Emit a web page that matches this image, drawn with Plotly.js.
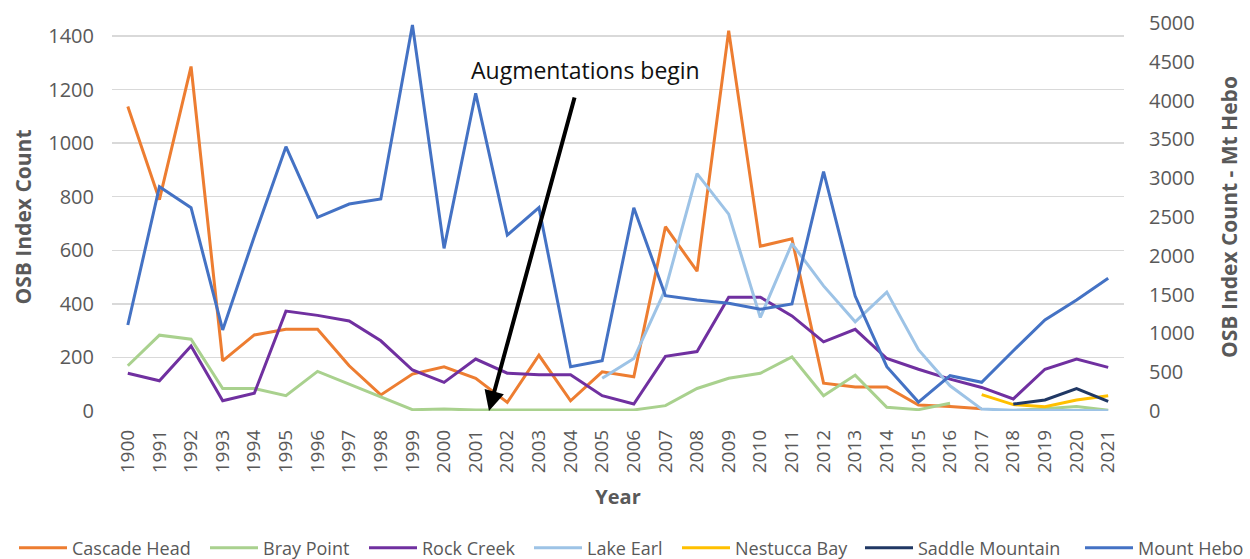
<!DOCTYPE html>
<html>
<head>
<meta charset="utf-8">
<script src="https://cdn.plot.ly/plotly-3.0.1.min.js"></script>
<style>html,body{margin:0;padding:0;background:#fff;}#chart{width:1250px;height:559px;}</style>
</head>
<body>
<div id="chart"></div>
<script>
const years = ["1900","1991","1992","1993","1994","1995","1996","1997","1998","1999","2000","2001","2002","2003","2004","2005","2006","2007","2008","2009","2010","2011","2012","2013","2014","2015","2016","2017","2018","2019","2020","2021"];

const cascadeHead = [1137, 789, 1286, 187, 284, 305, 305, 169, 60, 138, 165, 122, 32, 208, 38, 146, 128, 688, 522, 1420, 615, 643, 104, 90, 90, 22, 17, 8, null, null, null, null];
const brayPoint = [169, 283, 268, 84, 84, 57, 148, 100, 51, 5, 7, 4, 4, 4, 4, 4, 4, 20, 84, 122, 141, 202, 57, 134, 14, 5, 29, null, 2, 8, 17, 3];
const rockCreek = [141, 113, 243, 38, 66, 373, 357, 336, 262, 153, 107, 194, 141, 135, 135, 57, 26, 204, 222, 425, 425, 355, 258, 305, 196, 156, 119, 88, 45, 156, 194, 163];
const lakeEarl = [null, null, null, null, null, null, null, null, null, null, null, null, null, null, null, 122, 196, 455, 886, 735, 349, 625, 467, 333, 444, 229, 94, 7, 3, 3, 3, 1];
const nestuccaBay = [null, null, null, null, null, null, null, null, null, null, null, null, null, null, null, null, null, null, null, null, null, null, null, null, null, null, null, 61, 24, 16, 41, 57];
const saddleMountain = [null, null, null, null, null, null, null, null, null, null, null, null, null, null, null, null, null, null, null, null, null, null, null, null, null, null, null, null, 26, 41, 84, 36];
const mountHebo = [1108, 2890, 2620, 1044, 2250, 3406, 2495, 2667, 2732, 4974, 2096, 4094, 2268, 2620, 571, 648, 2620, 1486, 1430, 1388, 1310, 1379, 3084, 1482, 571, 115, 455, 370, 777, 1173, 1430, 1710];

const seriesNames = ["Cascade Head","Bray Point","Rock Creek","Lake Earl","Nestucca Bay","Saddle Mountain","Mount Hebo"];
const seriesColors = ["#ED7D31","#A9D18E","#7030A0","#9DC3E6","#FFC000","#203864","#4472C4"];
const seriesData = [cascadeHead, brayPoint, rockCreek, lakeEarl, nestuccaBay, saddleMountain, mountHebo];
const seriesAxis = ["y","y","y","y","y","y","y2"];

// legend entry left positions (fraction of the page width)
const legendX = [0.0112, 0.164, 0.2912, 0.4232, 0.5416, 0.688, 0.864];
const legendIds = ["legend","legend2","legend3","legend4","legend5","legend6","legend7"];

const traces = seriesNames.map((name, k) => ({
  type: "scatter",
  mode: "lines",
  name: name,
  x: years,
  y: seriesData[k],
  yaxis: seriesAxis[k],
  legend: legendIds[k],
  line: {color: seriesColors[k], width: 3},
  connectgaps: false
}));

const FONT = "'Open Sans', sans-serif";
const grey = "#595959";

const layout = {
  width: 1250, height: 559,
  margin: {l: 112, r: 126, t: 23, b: 148, pad: 0},
  paper_bgcolor: "#fff", plot_bgcolor: "#fff",
  font: {family: FONT, color: grey, size: 18},
  showlegend: true,
  xaxis: {type: "category", categoryorder: "array", categoryarray: years, automargin: false,
          range: [-0.5, 31.5], tickangle: -90, showgrid: false, zeroline: false, showline: false,
          ticks: "", ticklabelstandoff: 14, tickfont: {family: FONT, size: 19, color: grey},
          title: {text: "Year", standoff: 17, font: {family: FONT, size: 20, color: grey, weight: "bold"}}},
  yaxis: {range: [0, 1448.5], dtick: 200, tick0: 0, showgrid: true, gridcolor: "#D9D9D9", gridwidth: 1.5,
          zeroline: false, showline: false, ticks: "", ticklabelstandoff: 17, automargin: false,
          tickfont: {family: FONT, size: 20, color: grey},
          title: {text: "OSB Index Count", standoff: 10, font: {family: FONT, size: 21, color: grey, weight: "bold"}}},
  yaxis2: {overlaying: "y", side: "right", range: [0, 5000], dtick: 500, tick0: 0, showgrid: false,
           zeroline: false, showline: false, ticks: "", ticklabelstandoff: 24, automargin: false,
           tickfont: {family: FONT, size: 20, color: grey},
           title: {text: "OSB Index Count - Mt Hebo", standoff: 28, font: {family: FONT, size: 21, color: grey, weight: "bold"}}},
  annotations: [
    {xref: "x", yref: "y", x: 11.42, y: 0, axref: "pixel", ayref: "pixel", ax: 86, ay: -315,
     showarrow: true, arrowhead: 2, arrowsize: 1, arrowwidth: 4, arrowcolor: "#000", standoff: 0, text: ""},
    {xref: "paper", yref: "paper", x: (585 - 112) / 1012, y: (411 - 70) / 388, xanchor: "center", yanchor: "middle",
     showarrow: false, text: "Augmentations begin", font: {family: FONT, size: 23, color: "#111"}}
  ]
};

legendIds.forEach((id, k) => {
  layout[id] = {orientation: "h", xref: "container", yref: "container", x: legendX[k], xanchor: "left",
                y: 1 - 548 / 559, yanchor: "middle", bgcolor: "rgba(0,0,0,0)", borderwidth: 0,
                font: {family: FONT, size: 18, color: grey}, itemwidth: 48};
});

Plotly.newPlot("chart", traces, layout, {displayModeBar: false, staticPlot: true});
</script>
</body>
</html>
